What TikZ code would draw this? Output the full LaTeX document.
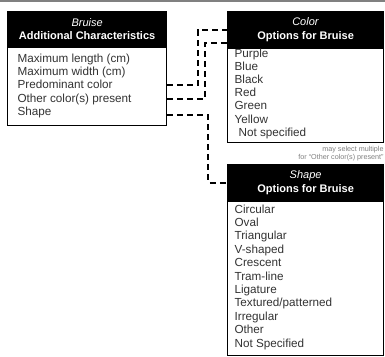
\documentclass[tikz,border=0pt]{standalone}
\usepackage{fontspec}
\setmainfont{Liberation Sans}
\usetikzlibrary{positioning}
\definecolor{itemgray}{HTML}{333333}
\tikzset{
    every node/.style={inner sep=0pt},
    header/.style={draw, fill=black, text=white, align=center, anchor=north west,
        font=\fontsize{11}{13.3}\selectfont},
    body/.style={draw, fill=white},
    item/.style={anchor=base west, text=itemgray, font=\fontsize{11.7}{12}\selectfont},
    link/.style={line width=2pt, dash pattern=on 6pt off 4pt}
}

\begin{document}
\begin{tikzpicture}[x=1pt, y=-1pt, line width=1.2pt]
    \useasboundingbox (0,0) rectangle (385,356);
    \draw[gray, line width=1.5pt] (0,0.75) -- (385,0.75);

    \node (bhead) [header, minimum width=159pt, minimum height=35pt] at (7,11) {\textit{Bruise}\\\textbf{Additional Characteristics}};
    \node (bbody) [body, below=0pt of bhead, minimum width=159pt, minimum height=78pt] {};
    \foreach \txt [count=\i] in {Maximum length (cm), Maximum width (cm), Predominant color, Other color(s) present, Shape}
        \node (b\i) [item] at (17, {49+13.25*\i}) {\txt};

    \node (chead) [header, minimum width=156pt, minimum height=36pt] at (227,11) {\textit{Color}\\\textbf{Options for Bruise}};
    \node (cbody) [body, below=0pt of chead, minimum width=156pt, minimum height=94pt] {};
    \foreach \txt [count=\i] in {Purple, Blue, Black, Red, Green, Yellow}
        \node (c\i) [item] at (234, {43.8+13.2*\i}) {\txt};
    \node (c7) [item] at (238, 136.2) {Not specified};
    \node (note) [below left=2.5pt and 0pt of cbody.south east, align=right, text=gray,
        font=\fontsize{7.2}{8}\selectfont] {may select multiple\\for “Other color(s) present”};

    \node (shead) [header, minimum width=156pt, minimum height=36pt] at (227,164) {\textit{Shape}\\\textbf{Options for Bruise}};
    \node (sbody) [body, below=0pt of shead, minimum width=156pt, minimum height=154pt] {};
    \foreach \txt [count=\i] in {Circular, Oval, Triangular, V-shaped, Crescent, Tram-line, Ligature, Textured/patterned, Irregular, Other, Not Specified}
        \node (s\i) [item] at (234, {199.6+13.4*\i}) {\txt};

    \draw[link] (bbody.east |- b3) -- ++(31,0) |- (chead.west);
    \draw[link] (bbody.east |- b4) -- ++(38,0) |- ([yshift=-13pt]chead.west);
    \draw[link] ([yshift=-3pt]b5.west -| bbody.east) -- ++(41,0) |- (shead.west);
\end{tikzpicture}
\end{document}
